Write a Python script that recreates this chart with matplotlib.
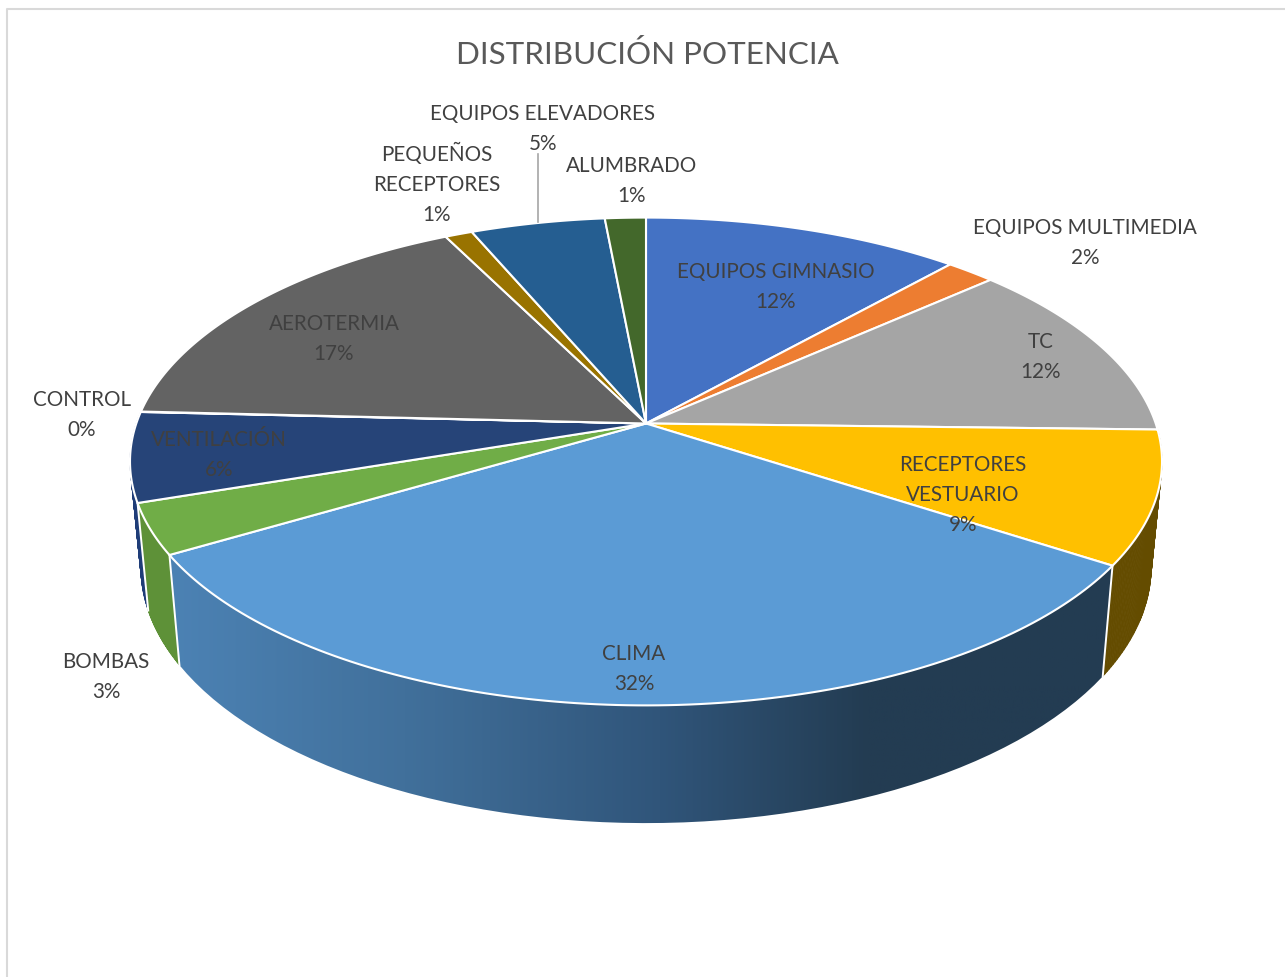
import matplotlib
matplotlib.use("Agg")
import matplotlib.pyplot as plt
from matplotlib.colors import LinearSegmentedColormap
from matplotlib.patches import Polygon
import numpy as np

plt.rcParams['font.family'] = ['Lato', 'DejaVu Sans']

title = "DISTRIBUCIÓN POTENCIA"
categories = ["EQUIPOS GIMNASIO", "EQUIPOS MULTIMEDIA", "TC", "RECEPTORES\nVESTUARIO", "CLIMA", "BOMBAS",
              "VENTILACIÓN", "CONTROL", "AEROTERMIA", "PEQUEÑOS\nRECEPTORES", "EQUIPOS ELEVADORES", "ALUMBRADO"]
values = [11.6, 1.8, 12.0, 8.8, 32.3, 3.35, 5.92, 0.03, 16.8, 1.0, 4.9, 1.49]
colors = ["#4472C4", "#ED7D31", "#A5A5A5", "#FFC000", "#5B9BD5", "#70AD47",
          "#264478", "#9E480E", "#636363", "#997300", "#255E91", "#43682B"]
# darker colour of the side wall, only the slices you can see from the front
wall_colors = [None, None, None, "#644C00", "clima", "#5E9138", "#1F3D78", None, None, None, None, None]
# label centres in pixels
label_pos = [(776, 287), (1085, 243), (1041, 357), (963, 495), (634, 669), (106, 677),
             (219, 455), (82, 415), (334, 339), (437, 184), (543, 129), (632, 181)]

# the perspective disc: top rim and lower rim
K = 0.1557
TOP = (509.7, 238, 424.5)
BOTTOM = (499, 250, 528)
CX = 646


def rim(theta, shape):
    a, b, y0 = shape
    u = np.sin(theta)
    v = -np.cos(theta)
    d = 1 - K * v
    return CX + a * u / d, y0 + b * v / d


fig = plt.figure(figsize=(12.85, 9.78), dpi=100)
ax = fig.add_axes([0, 0, 1, 1])
ax.set_xlim(0, 1285)
ax.set_ylim(978, 0)
ax.axis('off')

# chart area border
ax.plot([7, 7, 1285], [978, 9.5, 9.5], color='#D9D9D9', lw=1.5, zorder=1)

edges = np.radians(np.cumsum([0] + values) / sum(values) * 360)

# side walls, outer ones first
order = sorted(range(len(values)), key=lambda i: -abs((edges[i] + edges[i + 1]) / 2 - np.pi))
z = 2
for i in order:
    if wall_colors[i] is None:
        continue
    th = np.linspace(edges[i], edges[i + 1], 60)
    xt, yt = rim(th, TOP)
    xb, yb = rim(th, BOTTOM)
    if wall_colors[i] == "clima":
        cmap = LinearSegmentedColormap.from_list("clima", [(0, "#4C82B4"), (0.25, "#41709B"),
                                                           (0.52, "#30557A"), (0.74, "#233C52"), (1, "#233C52")])
        img = ax.imshow(np.linspace(0, 1, 512).reshape(1, -1), cmap=cmap, extent=(169, 1114, 830, 550),
                        aspect='auto', zorder=z)
        clip = Polygon(np.column_stack([np.r_[xt, xb[::-1]], np.r_[yt, yb[::-1]]]), transform=ax.transData)
        img.set_clip_path(clip)
    else:
        for j in range(len(th) - 1):
            ax.fill([xt[j], xt[j + 1], xb[j + 1], xb[j]], [yt[j], yt[j + 1], yb[j + 1], yb[j]],
                    color=wall_colors[i], lw=0.6, zorder=z)
    z += 1

# white lines between the walls
ax.set_xlim(0, 1285)
ax.set_ylim(978, 0)
for i in [3, 4, 5]:
    t = edges[i + 1]
    xt, yt = rim(t, TOP)
    xb, yb = rim(t, BOTTOM)
    ax.plot([xt, xb], [yt, yb], color='white', lw=1.4, zorder=20)

# top faces
for i in range(len(values)):
    th = np.linspace(edges[i], edges[i + 1], 120)
    x, y = rim(th, TOP)
    ax.fill(np.r_[CX, x], np.r_[TOP[2], y], facecolor=colors[i], edgecolor='white', lw=1.5,
            joinstyle='round', zorder=30)

# leader line of the elevators label
ax.plot([538, 538], [155, 223], color='#A6A6A6', lw=1.2, zorder=31)

for i, name in enumerate(categories):
    ax.text(label_pos[i][0], label_pos[i][1], f"{name}\n{round(values[i])}%", ha='center', va='center',
            fontsize=14.9, color='#404040', linespacing=1.6, zorder=40)

ax.text(647, 55, title, ha='center', va='center', fontsize=22.6, color='#595959', zorder=40)

fig.savefig("out.png", dpi=100)
